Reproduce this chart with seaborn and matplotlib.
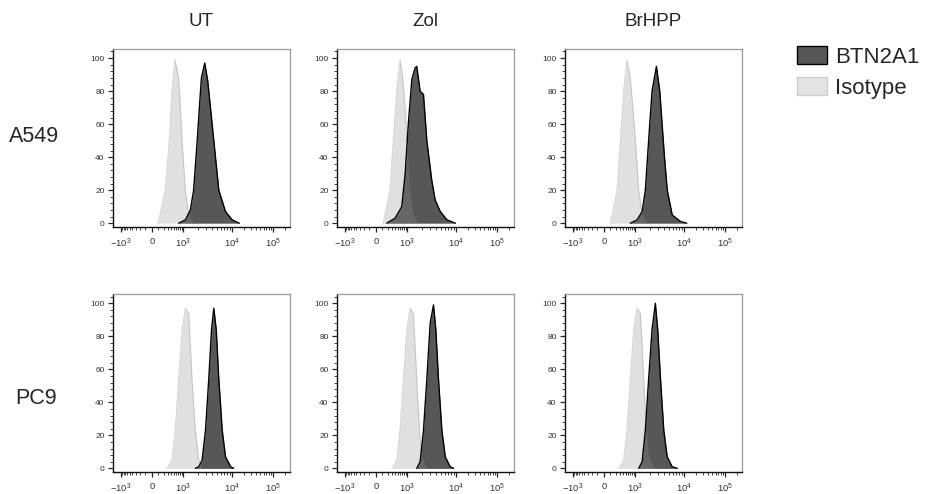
import matplotlib
matplotlib.use("agg")
import matplotlib.pyplot as plt
from matplotlib.patches import Patch
from matplotlib.ticker import FixedLocator, MultipleLocator

import numpy as np
import pandas as pd
import seaborn as sns

cellLines = ['A549', 'PC9']
treatments = ['UT', 'Zol', 'BrHPP']

# histogram outlines: fluorescence intensity vs % of max
a549UtIsoX = [80, 103, 233, 336, 420, 535, 714, 818, 922, 1115, 1306, 1650]
a549UtIsoY = [0, 1, 20, 50, 80, 99, 88, 70, 50, 20, 6, 0]
a549UtBtnX = [714, 1115, 1416, 1652, 1957, 2170, 2390, 2800, 3226, 3660, 4290, 5430, 7450, 10250, 15300]
a549UtBtnY = [0, 2, 8, 20, 50, 70, 88, 97, 86, 70, 50, 20, 7, 2, 0]

a549ZolIsoX = [115, 250, 336, 445, 580, 714, 865, 980, 1115, 1350, 1710]
a549ZolIsoY = [0, 20, 50, 80, 99, 88, 70, 50, 20, 5, 0]
a549ZolBtnX = [180, 390, 665, 865, 1060, 1254, 1464, 1585, 1860, 2180, 2555, 3225, 3790, 4830, 6630, 9840]
a549ZolBtnY = [0, 3, 10, 30, 60, 87, 94, 95, 80, 78, 50, 26, 14, 7, 2, 0]

a549BrIsoX = [100, 230, 310, 410, 535, 695, 840, 1017, 1190, 1400, 1770]
a549BrIsoY = [0, 20, 50, 80, 99, 88, 70, 50, 20, 5, 0]
a549BrBtnX = [695, 1098, 1400, 1630, 1905, 2240, 2755, 3225, 3600, 4030, 4590, 5800, 8600, 11800]
a549BrBtnY = [0, 2, 7, 20, 50, 80, 95, 80, 60, 40, 20, 5, 1, 0]

pc9UtIsoX = [275, 420, 550, 714, 922, 1115, 1306, 1416, 1530, 1795, 2105, 2470]
pc9UtIsoY = [0, 5, 23, 54, 84, 97, 94, 74, 54, 23, 5, 0]
pc9UtBtnX = [1795, 2105, 2470, 2895, 3380, 3850, 4290, 4810, 5430, 6380, 7450, 9520, 11100]
pc9UtBtnY = [0, 1, 5, 23, 54, 84, 97, 84, 54, 23, 7, 1, 0]

pc9ZolIsoX = [295, 450, 580, 755, 980, 1150, 1350, 1464, 1585, 1805, 2020, 2555]
pc9ZolIsoY = [0, 5, 23, 54, 84, 97, 94, 74, 54, 23, 7, 0]
pc9ZolBtnX = [1585, 1860, 2180, 2555, 2995, 3500, 3910, 4430, 5200, 6100, 7700, 9030]
pc9ZolBtnY = [0, 4, 23, 54, 88, 99, 84, 54, 23, 7, 1, 0]

pc9BrIsoX = [267, 410, 535, 695, 900, 1098, 1285, 1400, 1505, 1710, 1905, 2430]
pc9BrIsoY = [0, 5, 23, 54, 84, 97, 94, 74, 54, 23, 7, 0]
pc9BrBtnX = [1187, 1400, 1630, 1905, 2240, 2620, 2930, 3340, 3900, 4590, 5800, 7370]
pc9BrBtnY = [0, 4, 23, 54, 84, 100, 84, 54, 23, 7, 1, 0]

isoCurves = [[(a549UtIsoX, a549UtIsoY), (a549ZolIsoX, a549ZolIsoY), (a549BrIsoX, a549BrIsoY)],
             [(pc9UtIsoX, pc9UtIsoY), (pc9ZolIsoX, pc9ZolIsoY), (pc9BrIsoX, pc9BrIsoY)]]
btnCurves = [[(a549UtBtnX, a549UtBtnY), (a549ZolBtnX, a549ZolBtnY), (a549BrBtnX, a549BrBtnY)],
             [(pc9UtBtnX, pc9UtBtnY), (pc9ZolBtnX, pc9ZolBtnY), (pc9BrBtnX, pc9BrBtnY)]]

majorTicks = [-1000, 0, 1000, 10000, 100000]
majorLabels = ['$-10^{3}$', '0', '$10^{3}$', '$10^{4}$', '$10^{5}$']
yTicks = [0, 20, 40, 60, 80, 100]

# biexponential-like display axis (anchors measured from the plots)
anchorVals = np.array([-1700, -1000, 0, 1000, 1e4, 1e5, 262144])
anchorPos = np.array([0, 0.044, 0.219, 0.396, 0.671, 0.902, 1.0])
W = 200.0
anchorU = np.arcsinh(anchorVals / W)


def fwd(x):
    return np.interp(np.arcsinh(np.asarray(x, dtype=float) / W), anchorU, anchorPos)


def inv(p):
    return W * np.sinh(np.interp(np.asarray(p, dtype=float), anchorPos, anchorU))


minorTicks = list(range(-900, 0, 100)) + list(range(100, 1000, 100)) + \
    [k * 1000 for k in range(2, 10)] + [k * 10000 for k in range(2, 10)] + [200000]

sns.set_style('ticks')
plt.rcParams['font.family'] = ['Liberation Sans', 'DejaVu Sans']
plt.rcParams['mathtext.default'] = 'regular'

btnColor = '#575757'
isoColor = '#8f8f8f'

fig = plt.figure(figsize=(9.27, 4.94), dpi=100)
lefts = [113, 337, 565]
bottoms = [226.5, 471.7]
for r in range(2):
    for c in range(3):
        ax = fig.add_axes([lefts[c] / 927, 1 - bottoms[r] / 494, 177 / 927, 177.5 / 494])
        ax.set_xscale('function', functions=(fwd, inv))
        bx, by = btnCurves[r][c]
        ix, iy = isoCurves[r][c]
        ax.plot(ix, iy, color='#d8d8d8', lw=0.8, zorder=1.5)
        ax.fill_between(bx, by, 0, color=btnColor, lw=0, zorder=2)
        ax.fill_between(ix, iy, 0, color=isoColor, alpha=0.27, lw=0, zorder=3)
        df = pd.DataFrame({'x': bx, 'y': by})
        sns.lineplot(data=df, x='x', y='y', ax=ax, color='black', lw=1.0,
                     sort=False, estimator=None, zorder=4)
        ax.set_xlim(-1700, 262144)
        ax.set_ylim(-2, 105.5)
        ax.xaxis.set_major_locator(FixedLocator(majorTicks))
        ax.set_xticklabels(majorLabels)
        ax.xaxis.set_minor_locator(FixedLocator(minorTicks))
        ax.set_yticks(yTicks)
        ax.yaxis.set_minor_locator(MultipleLocator(4))
        ax.tick_params(which='major', length=3.5, width=0.9, labelcolor='#333333')
        ax.tick_params(axis='x', which='major', labelsize=6.8, pad=4)
        ax.tick_params(axis='y', which='major', labelsize=6, pad=2.5)
        ax.tick_params(which='minor', length=2, width=0.6)
        ax.set_xlabel('')
        ax.set_ylabel('')
        for s in ['left', 'bottom']:
            ax.spines[s].set_color('#111111')
            ax.spines[s].set_linewidth(1.0)
        for s in ['top', 'right']:
            ax.spines[s].set_color('#999999')
            ax.spines[s].set_linewidth(0.9)
        if r == 0:
            fig.text((lefts[c] + 88) / 927, 1 - 22 / 494, treatments[c],
                     ha='center', va='center', fontsize=13.5)

fig.text(34 / 927, 1 - 137 / 494, cellLines[0], ha='center', va='center', fontsize=15.5)
fig.text(36 / 927, 1 - 398 / 494, cellLines[1], ha='center', va='center', fontsize=15.5)

handles = [Patch(facecolor=btnColor, edgecolor='black', lw=1.0, label='BTN2A1'),
           Patch(facecolor='#e3e3e3', edgecolor='#cfcfcf', lw=1.0, label='Isotype')]
fig.legend(handles=handles, loc='upper left', bbox_to_anchor=(797 / 927, 1 - 46 / 494),
           frameon=False, fontsize=16, handlelength=1.35, handleheight=0.9,
           handletextpad=0.35, labelspacing=0.4, borderpad=0, borderaxespad=0)

fig.savefig('out.png', dpi=100)
plt.close('all')
